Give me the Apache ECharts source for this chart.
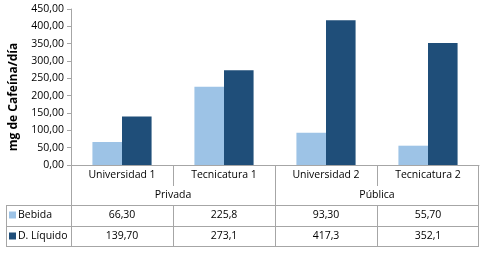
<!DOCTYPE html>
<html><head><meta charset="utf-8">
<script src="https://cdn.jsdelivr.net/npm/echarts@6/dist/echarts.min.js"></script>
<style>html,body{margin:0;padding:0;background:#fff}#c{width:480px;height:255px}</style>
</head><body><div id="c"></div>
<script>
const categories = ['Universidad 1', 'Tecnicatura 1', 'Universidad 2', 'Tecnicatura 2'];
const groups = ['Privada', 'Pública'];
const groupSpan = [2, 2];
const seriesNames = ['Bebida', 'D. Líquido'];
const bebida = [66.30, 225.8, 93.30, 55.70];
const dliquido = [139.70, 273.1, 417.3, 352.1];
const bebidaLabels = ['66,30', '225,8', '93,30', '55,70'];
const dliquidoLabels = ['139,70', '273,1', '417,3', '352,1'];
const yTitle = 'mg de Cafeína/día';

const FONT = 'Open Sans';
const COLORS = ['#9DC3E6', '#1F4E79'];
const LINE = '#a6a6a6';
const chart = echarts.init(document.getElementById('c'), null, {renderer: 'canvas'});
chart.setOption({
  animation: false,
  grid: {left: 71, right: 1, top: 9, bottom: 90},
  xAxis: {type: 'category', data: categories,
    axisLine: {lineStyle: {color: LINE}}, axisTick: {show: false}, axisLabel: {show: false}},
  yAxis: {type: 'value', min: 0, max: 450, interval: 50,
    axisLine: {show: true, lineStyle: {color: LINE}},
    axisTick: {show: true, length: 4, lineStyle: {color: LINE}},
    splitLine: {show: false},
    axisLabel: {formatter: v => v.toFixed(2).replace('.', ','), color: '#000', fontFamily: FONT, fontSize: 10.5, margin: 7}},
  series: [
    {type: 'bar', name: seriesNames[0], data: bebida, barGap: '0%', barCategoryGap: '42%', itemStyle: {color: COLORS[0]}},
    {type: 'bar', name: seriesNames[1], data: dliquido, itemStyle: {color: COLORS[1]}}
  ]
});

function drawTable() {
  const c0 = chart.convertToPixel({xAxisIndex: 0}, 0);
  const c1 = chart.convertToPixel({xAxisIndex: 0}, 1);
  const band = c1 - c0;
  const left = c0 - band / 2;
  const y0 = chart.convertToPixel({yAxisIndex: 0}, 0);
  const rowTop = [y0, y0 + 21, y0 + 40, y0 + 60.5];
  const rowH = [21, 19, 20.5, 20.5];
  const tableBottom = rowTop[3] + rowH[3];
  const tableLeft = 6;
  const right = left + band * categories.length;
  const els = [];
  const line = (x1, y1, x2, y2) => els.push({type: 'line', shape: {x1, y1, x2, y2}, style: {stroke: LINE, lineWidth: 1}, silent: true});
  const text = (x, y, t, align) => els.push({type: 'text', x, y, style: {text: t, fill: '#000', font: '10.5px "' + FONT + '"', align: align || 'center', verticalAlign: 'middle'}, silent: true});
  // horizontal lines
  line(tableLeft, Math.round(rowTop[2]) + 0.5, right, Math.round(rowTop[2]) + 0.5);
  line(tableLeft, Math.round(rowTop[3]) + 0.5, right, Math.round(rowTop[3]) + 0.5);
  line(tableLeft, Math.round(tableBottom) + 0.5, right, Math.round(tableBottom) + 0.5);
  // verticals
  line(tableLeft + 0.5, rowTop[2], tableLeft + 0.5, tableBottom);
  line(Math.round(left) + 0.5, y0, Math.round(left) + 0.5, tableBottom);
  line(Math.round(right) - 0.5, y0, Math.round(right) - 0.5, tableBottom);
  let k = 0;
  groupSpan.forEach((s, gi) => {
    const gx = left + band * k;
    for (let j = 1; j < s; j++) {
      const x = Math.round(gx + band * j) + 0.5;
      line(x, y0, x, rowTop[1]);
    }
    if (k > 0) { const x = Math.round(gx) + 0.5; line(x, y0, x, tableBottom); }
    for (let j = 1; j < s; j++) {
      const x = Math.round(gx + band * j) + 0.5;
      line(x, rowTop[2], x, tableBottom);
    }
    text(gx + band * s / 2, rowTop[1] + rowH[1] / 2, groups[gi]);
    k += s;
  });
  categories.forEach((cat, i) => {
    const cx = chart.convertToPixel({xAxisIndex: 0}, i);
    text(cx, rowTop[0] + rowH[0] / 2, cat);
    text(cx, rowTop[2] + rowH[2] / 2, bebidaLabels[i]);
    text(cx, rowTop[3] + rowH[3] / 2, dliquidoLabels[i]);
  });
  [0, 1].forEach(si => {
    const cy = rowTop[2 + si] + rowH[2 + si] / 2;
    els.push({type: 'rect', shape: {x: 9, y: Math.round(cy) - 3.5, width: 7, height: 7}, style: {fill: COLORS[si]}, silent: true});
    text(18, cy, seriesNames[si], 'left');
  });
  els.push({type: 'text', x: 14, y: 97, rotation: Math.PI / 2,
    style: {text: yTitle, fill: '#000', font: 'bold 12px "' + FONT + '"', align: 'center', verticalAlign: 'middle'}, silent: true});
  chart.setOption({graphic: {elements: els}});
}
drawTable();
</script></body></html>
